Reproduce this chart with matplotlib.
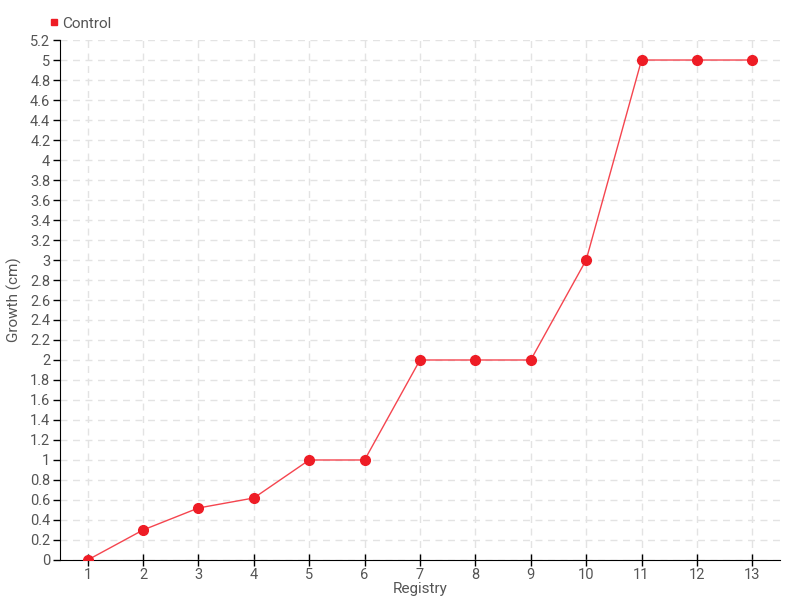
import matplotlib
matplotlib.use("Agg")
import matplotlib.pyplot as plt
import numpy as np

registry = list(range(1, 14))
control = [0, 0.3, 0.52, 0.62, 1, 1, 2, 2, 2, 3, 5, 5, 5]
yticks = np.round(np.arange(0, 5.21, 0.2), 1)
ylabels = ['%g' % v for v in yticks]

plt.rcParams['font.family'] = ['Roboto', 'DejaVu Sans']

fig = plt.figure(figsize=(8, 6), dpi=100)
ax = fig.add_axes([0.075, 0.0667, 0.9, 0.8666])

red = '#ee1c25'
ax.plot(registry, control, color='#f5454f', lw=1, marker='o', ms=7,
        markerfacecolor=red, markeredgecolor=red, label='Control', zorder=3)

ax.set_xlim(0.5, 13.5)
ax.set_ylim(0, 5.2)
ax.set_xticks(registry)
ax.set_yticks(yticks)
ax.set_yticklabels(ylabels)
ax.grid(True, color='#e3e3e3', ls=(0, (5, 4)), lw=1)
ax.set_axisbelow(True)
for s in ['top', 'right']:
    ax.spines[s].set_visible(False)
ax.tick_params(axis='both', colors='black', labelcolor='#555555', labelsize=10.5,
               length=5, width=1, pad=2)
ax.tick_params(axis='x', direction='inout', length=8)
ax.set_xlabel('Registry', color='#555555', fontsize=11, labelpad=0)
ax.set_ylabel('Growth (cm)', color='#555555', fontsize=11)
ax.yaxis.set_label_coords(-0.053, 0.5)

fig.legend(handles=[plt.Line2D([], [], marker='s', ls='', color=red, ms=5)],
           labels=['Control'], loc='upper left', bbox_to_anchor=(0.043, 0.995),
           frameon=False, fontsize=11, handletextpad=0.1, handlelength=0.8,
           labelcolor='#555555')

fig.savefig('out.png')
